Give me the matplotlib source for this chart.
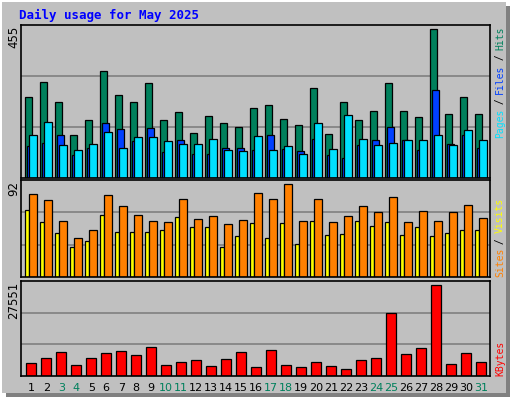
import matplotlib
matplotlib.use("Agg")
import matplotlib.pyplot as plt
from matplotlib.patches import Rectangle
import numpy as np

days = list(range(1, 32))
weekends = [3, 4, 10, 11, 17, 18, 24, 25, 31]
hits = [242, 285, 225, 127, 172, 317, 246, 225, 282, 172, 195, 133, 183, 163, 151, 207,
        216, 175, 157, 267, 130, 225, 172, 198, 282, 198, 181, 443, 189, 240, 189]
files = [95, 103, 127, 68, 88, 163, 145, 109, 148, 76, 112, 72, 71, 88, 88, 82,
         127, 85, 79, 115, 68, 58, 97, 112, 151, 112, 82, 261, 100, 127, 88]
pages = [127, 166, 97, 82, 100, 136, 88, 121, 121, 109, 100, 100, 115, 82, 79, 124,
         82, 94, 72, 163, 85, 186, 115, 97, 103, 112, 112, 127, 97, 142, 112]
sites = [64, 52, 42, 28, 34, 59, 43, 43, 43, 45, 57, 47, 47, 28, 39, 51,
         37, 51, 31, 53, 40, 41, 53, 48, 52, 40, 47, 39, 42, 45, 45]
visits = [79, 73, 53, 37, 45, 78, 67, 59, 53, 52, 74, 55, 58, 50, 54, 80,
          74, 88, 53, 74, 52, 58, 67, 62, 76, 52, 63, 53, 62, 68, 56]
kbytes = [3683, 5133, 6883, 3102, 5133, 6593, 7163, 6013, 8323, 3102, 3973, 4553, 2813, 4843, 6883, 2523,
          7453, 3102, 2523, 3973, 2813, 1943, 4553, 5133, 18183, 6293, 8033, 26304, 3393, 6593, 3973]

BG = "#C0C0C0"
W, H = 512, 400
fig = plt.figure(figsize=(W / 100, H / 100), dpi=100, facecolor="white")

def fx(x): return x / W
def fy(y): return 1 - y / H

# outer panel with shadow (behind the axes)
fig.patches.append(Rectangle((fx(6), fy(397)), fx(504), fy(6) - fy(397),
                             transform=fig.transFigure, facecolor="#808080",
                             edgecolor="none", zorder=-2))
fig.patches.append(Rectangle((fx(2), fy(393)), fx(504), fy(2) - fy(393),
                             transform=fig.transFigure, facecolor=BG,
                             edgecolor="none", zorder=-1))

fig.text(fx(19), fy(15), "Daily usage for May 2025", color="#0000FF", fontsize=9,
         fontweight="bold", family="DejaVu Sans Mono", va="center")

x = np.arange(31)
XMAX = 469 / 15

def make_ax(top, bottom, ymax):
    ax = fig.add_axes([fx(21), fy(bottom), fx(490) - fx(21), fy(top) - fy(bottom)])
    ax.set_facecolor(BG)
    ax.set_xlim(0, XMAX)
    ax.set_ylim(0, ymax)
    for g in (ymax / 3, 2 * ymax / 3):
        ax.axhline(g, color="#808080", lw=1.2, zorder=0)
    ax.set_xticks([]); ax.set_yticks([])
    for s in ax.spines.values():
        s.set_color("black"); s.set_linewidth(1.2)
    return ax

ek = dict(edgecolor="black", linewidth=0.9, align="edge")
ax1 = make_ax(25, 178, 455)
ax1.bar(x + 0.28, hits, 0.47, color="#00805C", **ek)
ax1.bar(x + 0.41, files, 0.47, color="#0040FF", **ek)
ax1.bar(x + 0.55, pages, 0.53, color="#00E0FF", **ek)

ax2 = make_ax(180, 277, 92)
ax2.bar(x + 0.28, sites, 0.27, color="#FFFF00", **ek)
ax2.bar(x + 0.55, visits, 0.5, color="#FF8000", **ek)

ax3 = make_ax(281, 376, 27551)
ax3.bar(x + 0.35, kbytes, 0.66, color="#FF0000", **ek)

for i, d in enumerate(days):
    px = 21 + (i + 0.68) * 15
    fig.text(fx(px), fy(388), str(d), ha="center", va="center", fontsize=8,
             color="#00805C" if d in weekends else "black")

for txt, y in [("455", 26), ("92", 181), ("27551", 282)]:
    fig.text(fx(14), fy(y), txt, rotation=90, rotation_mode="anchor",
             ha="right", va="center", fontsize=8.5)

def side_label(parts, y0, xpx=500):
    k = 0
    for s, c in parts:
        fig.text(fx(xpx), fy(y0 - k * 5.5), s, rotation=90, rotation_mode="anchor",
                 ha="left", va="center", fontsize=7, family="DejaVu Sans Mono", color=c)
        k += len(s)

side_label([("Pages", "#00E0FF"), (" / ", "black"), ("Files", "#0040FF"),
            (" / ", "black"), ("Hits", "#00805C")], 138)
side_label([("Sites", "#FF8000"), (" / ", "black"), ("Visits", "#FFFF00")], 277)
side_label([("KBytes", "#FF0000")], 376)

fig.savefig("out.png", dpi=100, facecolor="white")
